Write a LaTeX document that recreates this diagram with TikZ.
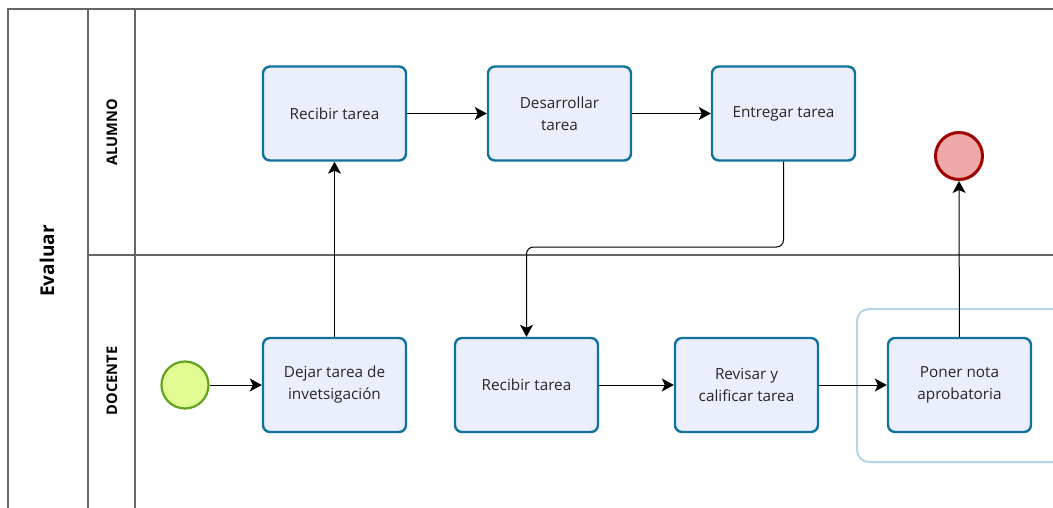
\documentclass[tikz,border=0pt]{standalone}
\usepackage{fontspec}
\setmainfont{Open Sans}
\usetikzlibrary{arrows.meta,positioning}
\definecolor{taskfill}{HTML}{EBEFFD}
\definecolor{taskline}{HTML}{10739E}
\definecolor{startfill}{HTML}{E2FB93}
\definecolor{startline}{HTML}{62A420}
\definecolor{endfill}{HTML}{EEA8A8}
\definecolor{endline}{HTML}{A00000}
\definecolor{grpline}{HTML}{B3D5E6}
\definecolor{laneline}{HTML}{666666}
\tikzset{
  task/.style={draw=taskline,fill=taskfill,line width=2.4pt,rounded corners=7pt,
    minimum width=143pt,minimum height=94pt,align=center,font=\fontsize{15.3}{22}\selectfont,text=black!85},
  startev/.style={circle,draw=startline,fill=startfill,line width=2.2pt,minimum size=47pt,inner sep=0pt},
  endev/.style={circle,draw=endline,fill=endfill,line width=3pt,minimum size=47pt,inner sep=0pt},
  flow/.style={draw=black,line width=1pt,-{Stealth[length=12pt,width=13pt,inset=3pt]}},
  lane/.style={draw=laneline,line width=1.3pt},
  lanelabel/.style={rotate=90,font=\bfseries\fontsize{14.6}{16}\selectfont},
}
\begin{document}
\begin{tikzpicture}[x=1pt,y=-1pt]
\useasboundingbox (0,0) rectangle (1053,508);
% pool and lanes
\draw[lane] (8,600) -- (8,9) -- (1060,9);
\draw[lane] (88,9) -- (88,600);
\draw[lane] (135,9) -- (135,600);
\draw[lane] (88,255) -- (1060,255);
\node[rotate=90,font=\bfseries\fontsize{19}{22}\selectfont] (pool) at (47,261) {Evaluar};
\node[lanelabel] (alumno) at (112,132) {ALUMNO};
\node[lanelabel] (docente) at (112,381) {DOCENTE};
% group
\draw[draw=grpline,line width=2pt,rounded corners=12pt] (857,309) rectangle (1070,462);
% tasks
\node[task] (rec1) at (334.5,113.5) {Recibir tarea};
\node[task] (des) at (559.5,113.5) {Desarrollar\\tarea};
\node[task] (ent) at (783.5,113.5) {Entregar tarea};
\node[task] (dej) at (334.5,385) {Dejar tarea de\\invetsigación};
\node[task] (rec2) at (526.5,385) {Recibir tarea};
\node[task] (rev) at (746.5,385) {Revisar y\\calificar tarea};
\node[task] (pon) at (959.5,385) {Poner nota\\aprobatoria};
\node[startev] (start) at (185,385) {};
\node[endev] (end) at (959,156) {};
\coordinate (c1) at (783.5,247);
\coordinate (c2) at (526.5,247);
% flows
\draw[flow] (start) -- (dej);
\draw[flow] (dej) -- (rec1);
\draw[flow] (rec1) -- (des);
\draw[flow] (des) -- (ent);
\draw[flow,rounded corners=7pt] (ent.south) -- (c1) -- (c2) -- (rec2.north);
\draw[flow] (rec2) -- (rev);
\draw[flow] (rev) -- (pon);
\draw[flow] (pon) -- (end);
\end{tikzpicture}
\end{document}
